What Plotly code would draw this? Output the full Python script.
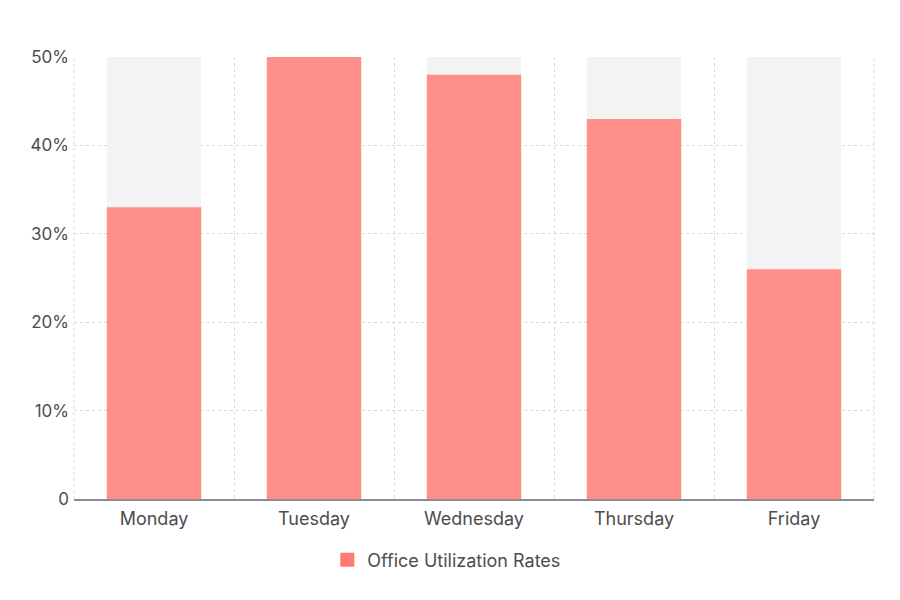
import plotly.graph_objects as go

days = ["Monday", "Tuesday", "Wednesday", "Thursday", "Friday"]
utilization = [33, 50, 48, 43, 26]
background = [50, 50, 50, 50, 50]
y_ticks = [0, 10, 20, 30, 40, 50]
y_labels = ["0", "10%", "20%", "30%", "40%", "50%"]

grid = "#d9d9d9"

fig = go.Figure()
fig.add_trace(go.Bar(x=days, y=background, marker=dict(color="#f3f3f3", line_width=0),
                     showlegend=False, hoverinfo="skip", width=0.59))
fig.add_trace(go.Bar(x=days, y=utilization, name="Office Utilization Rates",
                     marker=dict(color="#ff8f8a", line_width=0), width=0.59,
                     showlegend=False))
# legend entry with a bigger square swatch
fig.add_trace(go.Scatter(x=[None], y=[None], mode="markers", name="Office Utilization Rates",
                         marker=dict(symbol="square", size=14, color="#ff7a74")))

# dashed frame lines at the left and right edges of the plot
for xv in [0, 1]:
    fig.add_shape(type="line", xref="paper", yref="paper", x0=xv, x1=xv, y0=0, y1=1,
                  line=dict(color=grid, width=1, dash="3px,3px"), layer="below")

fig.update_layout(
    width=900, height=600,
    barmode="overlay",
    plot_bgcolor="white", paper_bgcolor="white",
    font=dict(family="Inter", size=17, color="#4d4d4d"),
    margin=dict(l=66, r=34, t=49, b=109),
    legend=dict(orientation="h", x=0.466, xanchor="center", y=-0.096, yanchor="top",
                font=dict(size=18, color="#4d4d4d"), itemsizing="trace"),
)
fig.update_xaxes(tickson="boundaries", showgrid=True, gridcolor=grid, griddash="3px,3px",
                 showline=True, linecolor="#8c8c99", linewidth=1.5, ticks="",
                 ticklabelstandoff=3, tickfont=dict(size=18))
fig.update_yaxes(range=[0, 50], tickvals=y_ticks, ticktext=y_labels, showgrid=True,
                 gridcolor=grid, griddash="3px,3px", zeroline=False,
                 ticks="", ticklabelstandoff=4, tickfont=dict(size=17))

fig.write_html("out.html")
